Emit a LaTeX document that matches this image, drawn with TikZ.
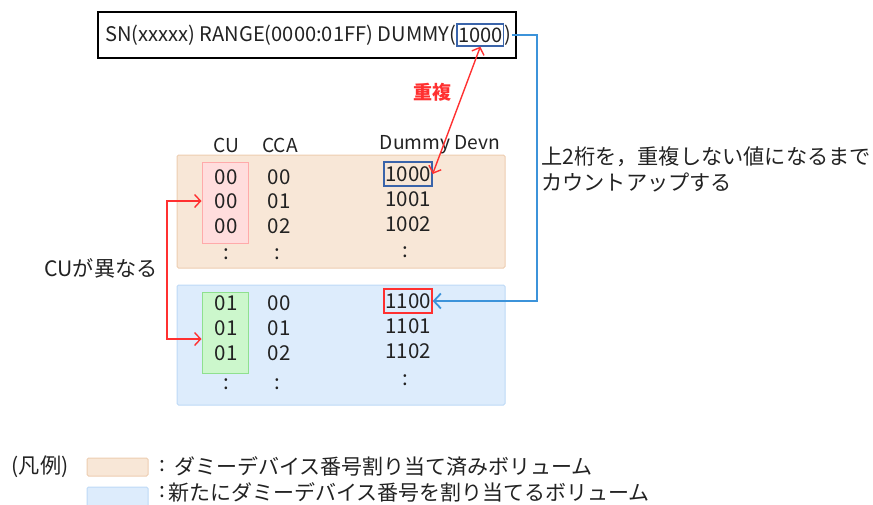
\documentclass[tikz,border=0pt]{standalone}
\usepackage{fontspec}
\setmainfont{Noto Sans CJK JP}
\usetikzlibrary{arrows.meta}
\definecolor{orfill}{HTML}{F8E7D7}
\definecolor{ordraw}{HTML}{EDCDB0}
\definecolor{blfill}{HTML}{DDECFC}
\definecolor{bldraw}{HTML}{BDD9F6}
\definecolor{pkfill}{HTML}{FFDDDD}
\definecolor{pkdraw}{HTML}{FFAAAA}
\definecolor{gnfill}{HTML}{CCF7CC}
\definecolor{gndraw}{HTML}{8FE08F}
\definecolor{lineblue}{HTML}{3C93DA}
\definecolor{boxblue}{HTML}{3A64AA}
\definecolor{myred}{HTML}{FF3030}
\definecolor{txt}{HTML}{222222}
\tikzset{
  txtnode/.style={inner sep=0pt, text=txt, font=\fontsize{20.5}{22}\selectfont},
  headtxt/.style={inner sep=0pt, text=txt, font=\fontsize{19.2}{22}\selectfont},
  cmdtxt/.style={inner sep=0pt, text=txt, font=\fontsize{20.1}{22}\selectfont},
  bigtxt/.style={inner sep=0pt, text=txt, font=\fontsize{21.2}{26}\selectfont, align=left},
  legtxt/.style={inner sep=0pt, text=txt, font=\fontsize{21}{26}\selectfont, align=left},
  panel/.style={rounded corners=1.5pt, line width=1pt},
  hl/.style={line width=1.3pt, inner sep=0pt},
  redarrow/.style={myred, line width=1.4pt, {Straight Barb[length=6pt,width=13pt]}-{Straight Barb[length=6pt,width=13pt]}},
  bluearrow/.style={lineblue, line width=1.8pt, -{Straight Barb[length=7pt,width=15pt]}},
}
\begin{document}
\begin{tikzpicture}[x=1pt,y=-1pt]
\useasboundingbox (0,0) rectangle (873,504);
% top box
\draw[line width=1.6pt] (98,12) rectangle (516,58);
\node[cmdtxt, anchor=west] (cmdA) at (105,35) {SN(xxxxx) RANGE(0000:01FF) DUMMY(};
\node[cmdtxt, anchor=west, draw=boxblue, line width=1.3pt, inner xsep=1pt, minimum height=22pt] (top1000) at (cmdA.east) {1000};
\node[cmdtxt, anchor=west] (cmdB) at (top1000.east) {)};
% panels
\draw[panel, fill=orfill, draw=ordraw] (177,155) rectangle (505,268);
\draw[panel, fill=blfill, draw=bldraw] (177,285) rectangle (505,405);
\node[draw=pkdraw, fill=pkfill, line width=1pt, inner sep=0pt, minimum width=46pt, minimum height=81pt] (cu0) at (225,202.5) {};
\node[draw=gndraw, fill=gnfill, line width=1pt, inner sep=0pt, minimum width=46pt, minimum height=81pt] (cu1) at (225,332.5) {};
% headers
\node[headtxt] (hcu) at (226,145) {CU};
\node[headtxt] (hcca) at (280,145) {CCA};
\node[headtxt] (hdd) at (440,145) {Dummy Devn};
% rows panel 1
\node[txtnode] (a1) at (226,177) {00};
\node[txtnode] (a2) at (226,201) {00};
\node[txtnode] (a3) at (226,226) {00};
\node[txtnode] (a4) at (226,254) {:};
\node[txtnode] (b1) at (279,177) {00};
\node[txtnode] (b2) at (279,201) {01};
\node[txtnode] (b3) at (279,226) {02};
\node[txtnode] (b4) at (277,254) {:};
\node[txtnode] (c1) at (408,174) {1000};
\node[txtnode] (c2) at (408,199) {1001};
\node[txtnode] (c3) at (408,224) {1002};
\node[txtnode] (c4) at (405,252) {:};
\node[draw=boxblue, hl, minimum width=48pt, minimum height=24pt] (p1000) at (408,174) {};
% rows panel 2
\node[txtnode] (d1) at (226,303) {01};
\node[txtnode] (d2) at (226,328) {01};
\node[txtnode] (d3) at (226,353) {01};
\node[txtnode] (d4) at (226,384) {:};
\node[txtnode] (e1) at (279,303) {00};
\node[txtnode] (e2) at (279,328) {01};
\node[txtnode] (e3) at (279,353) {02};
\node[txtnode] (e4) at (277,384) {:};
\node[txtnode] (f1) at (408,301) {1100};
\node[txtnode] (f2) at (408,326) {1101};
\node[txtnode] (f3) at (408,351) {1102};
\node[txtnode] (f4) at (405,380) {:};
\node[draw=myred, hl, minimum width=48pt, minimum height=24pt] (p1100) at (408,301) {};
% red dup arrow
\draw[redarrow] (top1000.south) -- (p1000.east);
\node[inner sep=0pt, text=myred, font=\fontsize{19}{20}\selectfont\bfseries] (dup) at (432,92) {重複};
% blue arrow
\coordinate (bc1) at (537,35);
\coordinate (bc2) at (537,301);
\draw[bluearrow] (cmdB.east) -- (bc1) -- (bc2) -- (p1100.east);
\node[bigtxt, anchor=north west] (note) at (541,146) {上2桁を，重複しない値になるまで\\カウントアップする};
% CU arrow
\coordinate (cl1) at (167,201);
\coordinate (cl2) at (167,339);
\draw[redarrow] (cu0.west |- cl1) -- (cl1) -- (cl2) -- (cu1.west |- cl2);
\node[bigtxt] (cudiff) at (101,268) {CUが異なる};
% legend
\node[bigtxt] (leg) at (40,467) {(凡例)};
\node[draw=ordraw, fill=orfill, line width=1pt, rounded corners=1.5pt, minimum width=61pt, minimum height=18pt, inner sep=0pt] (sw1) at (117.5,467) {};
\node[draw=bldraw, fill=blfill, line width=1pt, rounded corners=1.5pt, minimum width=61pt, minimum height=20pt, inner sep=0pt] (sw2) at (117.5,497) {};
\node[legtxt] (c1l) at (162,466) {:};
\node[legtxt] (c2l) at (162,492) {:};
\node[legtxt, anchor=west] (l1) at (174,466) {ダミーデバイス番号割り当て済みボリューム};
\node[legtxt, anchor=west] (l2) at (168,492) {新たにダミーデバイス番号を割り当てるボリューム};
\end{tikzpicture}
\end{document}
